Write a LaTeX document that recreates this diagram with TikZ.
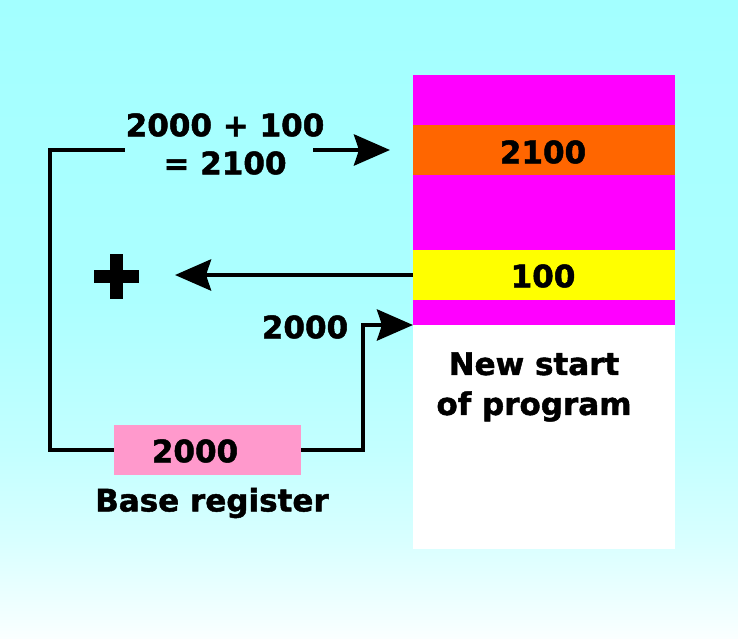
\documentclass[tikz,border=0pt]{standalone}
\usepackage{fontspec}
\setmainfont{DejaVu Sans}[BoldFeatures={FakeBold=1.5}]
\usetikzlibrary{arrows.meta}
\definecolor{bgtop}{RGB}{163,255,255}
\definecolor{bgc3}{RGB}{172,255,255}
\definecolor{bgc2}{RGB}{195,255,255}
\definecolor{bgc1}{RGB}{216,255,255}
\definecolor{bgbot}{RGB}{250,255,255}
\definecolor{memmag}{RGB}{255,0,255}
\definecolor{memorange}{RGB}{255,102,0}
\definecolor{memyellow}{RGB}{255,255,0}
\definecolor{regpink}{RGB}{255,153,204}
\pgfdeclareverticalshading{bgshade}{100bp}{color(0bp)=(bgbot); color(25bp)=(bgbot); color(32.7bp)=(bgc1); color(39.7bp)=(bgc2); color(51.5bp)=(bgc3); color(75bp)=(bgtop); color(100bp)=(bgtop)}
\tikzset{
  memblock/.style={rectangle, inner sep=0pt, outer sep=0pt, draw=none, minimum width=262pt, anchor=north west, font=\fontsize{31}{36}\selectfont\bfseries},
  lbl/.style={inner sep=0pt, font=\fontsize{31}{38}\selectfont\bfseries, align=center},
  conn/.style={line width=4.5pt, black},
  arr/.style={conn, -{Stealth[length=36pt,width=31pt,inset=5pt]}},
}
\begin{document}
\begin{tikzpicture}[x=1pt,y=-1pt]
\useasboundingbox (0,0) rectangle (738,638);
\shade[shading=bgshade] (0,0) rectangle (738,638);
% memory column
\node[memblock, fill=memmag, minimum height=50pt] (m1) at (413,75) {};
\node[memblock, fill=memorange, minimum height=50pt] (m2) at (413,125) {};
\node[memblock, fill=memmag, minimum height=75pt] (m3) at (413,175) {};
\node[memblock, fill=memyellow, minimum height=50pt] (m4) at (413,250) {};
\node[memblock, fill=memmag, minimum height=25pt] (m5) at (413,300) {};
\node[memblock, fill=white, minimum height=224pt] (m6) at (413,325) {};
\node[lbl] (t2100) at (543,152) {2100};
\node[lbl] (t100) at (543,276) {100};
\node[lbl, font=\fontsize{31}{40}\selectfont\bfseries] (newstart) at (534,387) {New start\\of program};
% base register
\node[rectangle, fill=regpink, inner sep=0pt, minimum width=187pt, minimum height=50pt] (reg) at (207.5,450) {};
\node[lbl] (t2000reg) at (195,451) {2000};
\node[lbl] (basereg) at (212,503) {Base register};
% labels
\node[lbl] (sum) at (225,144) {2000 + 100\\= 2100};
\node[lbl] (t2000) at (305,327) {2000};
% plus sign
\node[minimum size=45pt, inner sep=0pt] (plus) at (116,276) {};
\fill ([xshift=-22.5pt,yshift=-6.5pt]plus.center) rectangle ([xshift=22.5pt,yshift=6.5pt]plus.center);
\fill ([xshift=-6.5pt,yshift=-22.5pt]plus.center) rectangle ([xshift=6.5pt,yshift=22.5pt]plus.center);
% connectors
\coordinate (tl) at (50,150);
\coordinate (topend) at (125,150);
\coordinate (a1s) at (313,150);
\coordinate (a1e) at (390,150);
\coordinate (a2e) at (175,275);
\coordinate (bend) at (363,325);
\draw[conn, line join=miter] (reg.west) -| (tl) -- (topend);
\draw[arr] (a1s) -- (a1e);
\draw[arr] (m4.west) -- (a2e);
\draw[arr, line join=miter] (reg.east) -| (bend) -- (m6.north west);
\end{tikzpicture}
\end{document}
